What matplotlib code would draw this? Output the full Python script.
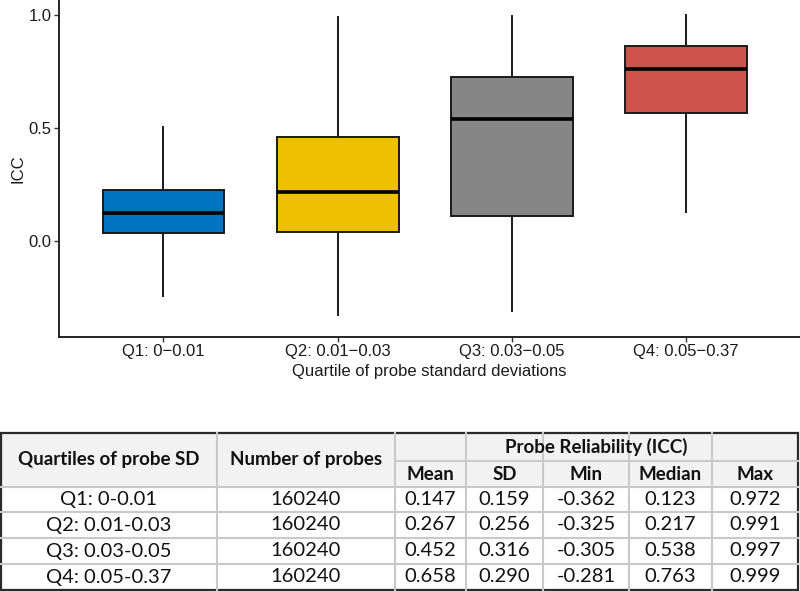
import matplotlib
matplotlib.use('Agg')
import matplotlib.pyplot as plt
from matplotlib.patches import Rectangle

plt.rcParams['font.family'] = ['Liberation Sans', 'DejaVu Sans']

# ---- box plot data (summary statistics) ----
groups = ['Q1: 0\u22120.01', 'Q2: 0.01\u22120.03', 'Q3: 0.03\u22120.05', 'Q4: 0.05\u22120.37']
whisker_low = [-0.242, -0.326, -0.307, 0.131]
box_q1 = [0.038, 0.041, 0.113, 0.568]
box_median = [0.123, 0.217, 0.539, 0.763]
box_q3 = [0.227, 0.462, 0.725, 0.863]
whisker_high = [0.506, 0.990, 0.996, 0.999]
box_colors = ['#0073C2', '#EFC000', '#868686', '#CD534C']

# ---- table data ----
table_quartiles = ['Q1: 0-0.01', 'Q2: 0.01-0.03', 'Q3: 0.03-0.05', 'Q4: 0.05-0.37']
table_n = [160240, 160240, 160240, 160240]
table_mean = [0.147, 0.267, 0.452, 0.658]
table_sd = [0.159, 0.256, 0.316, 0.290]
table_min = [-0.362, -0.325, -0.305, -0.281]
table_median = [0.123, 0.217, 0.538, 0.763]
table_max = [0.972, 0.991, 0.997, 0.999]
stat_headers = ['Mean', 'SD', 'Min', 'Median', 'Max']

W, H = 800, 591
fig = plt.figure(figsize=(W / 100, H / 100), dpi=100)

# ---- box plot ----
ax_left, ax_bottom_px = 59, 336.7
ax = fig.add_axes([ax_left / W, 1 - ax_bottom_px / H, (W - ax_left) / W, ax_bottom_px / H])
stats = []
for i in range(len(groups)):
    stats.append(dict(whislo=whisker_low[i], q1=box_q1[i], med=box_median[i],
                      q3=box_q3[i], whishi=whisker_high[i], fliers=[]))
positions = list(range(1, len(groups) + 1))
bp = ax.bxp(stats, positions=positions, widths=0.7, patch_artist=True,
            showcaps=False, showfliers=False,
            boxprops=dict(linewidth=1.4, edgecolor='#1a1a1a'),
            medianprops=dict(color='black', linewidth=2.6),
            whiskerprops=dict(color='#1a1a1a', linewidth=1.4))
for patch, c in zip(bp['boxes'], box_colors):
    patch.set_facecolor(c)

ax.set_xlim(0.4, 4.655)
ax.set_ylim(-0.4216, 1.0663)
ax.set_xticks(positions)
ax.set_xticklabels(groups)
ax.set_yticks([0.0, 0.5, 1.0])
ax.set_yticklabels(['0.0', '0.5', '1.0'])
for s in ['top', 'right']:
    ax.spines[s].set_visible(False)
for s in ['left', 'bottom']:
    ax.spines[s].set_linewidth(1.4)
    ax.spines[s].set_color('#222222')
ax.tick_params(axis='both', length=3.5, width=1.0, color='#333333',
               labelsize=12, labelcolor='#1a1a1a', pad=2)
ax.set_xlabel('Quartile of probe standard deviations', fontsize=12, color='#1a1a1a', labelpad=3)
ax.set_ylabel('ICC', fontsize=12, color='#1a1a1a', labelpad=2)
ax.set_facecolor('white')

# ---- table ----
tax = fig.add_axes([0, 0, 1, 1], zorder=5)
tax.set_xlim(0, W)
tax.set_ylim(H, 0)
tax.axis('off')
tax.patch.set_alpha(0)

col_edges = [0, 217, 395, 466, 543, 629, 712, 798]
row_edges = [433, 461, 487, 512, 538, 564, 590]
grid_c = '#c9c9c9'
tfont = ['Lato', 'DejaVu Sans']
fs_body = 14.5
fs_head = 13.5

tax.add_patch(Rectangle((col_edges[0], row_edges[0]), col_edges[-1] - col_edges[0],
                        row_edges[2] - row_edges[0], facecolor='#f2f2f2', edgecolor='none'))
# horizontal grid lines
for k, y in enumerate(row_edges[1:-1], start=1):
    x0 = col_edges[2] if k == 1 else col_edges[0]
    tax.plot([x0, col_edges[-1]], [y, y], color=grid_c, lw=1.5)
# vertical grid lines
for x in col_edges[1:-1]:
    tax.plot([x, x], [row_edges[0], row_edges[-1]], color=grid_c, lw=1.5)
# outer border
tax.add_patch(Rectangle((col_edges[0] + 1, row_edges[0]), col_edges[-1] - col_edges[0] - 1,
                        row_edges[-1] - row_edges[0], facecolor='none', edgecolor='#2a2a2a', lw=1.6))

def cx(i):
    return (col_edges[i] + col_edges[i + 1]) / 2

def cy(j):
    return (row_edges[j] + row_edges[j + 1]) / 2

hy = (row_edges[0] + row_edges[2]) / 2
tax.text(cx(0), hy, 'Quartiles of probe SD', ha='center', va='center', fontsize=fs_head,
         fontweight='bold', family=tfont, color='#111111')
tax.text(cx(1), hy, 'Number of probes', ha='center', va='center', fontsize=fs_head,
         fontweight='bold', family=tfont, color='#111111')
tax.text((col_edges[2] + col_edges[-1]) / 2, cy(0), 'Probe Reliability (ICC)', ha='center',
         va='center', fontsize=fs_head, fontweight='bold', family=tfont, color='#111111')
for i, h in enumerate(stat_headers):
    tax.text(cx(2 + i), cy(1), h, ha='center', va='center', fontsize=fs_head,
             fontweight='bold', family=tfont, color='#111111')

for r in range(len(table_quartiles)):
    vals = [table_quartiles[r], str(table_n[r]),
            f'{table_mean[r]:.3f}', f'{table_sd[r]:.3f}', f'{table_min[r]:.3f}',
            f'{table_median[r]:.3f}', f'{table_max[r]:.3f}']
    for i, v in enumerate(vals):
        tax.text(cx(i), cy(2 + r), v, ha='center', va='center', fontsize=fs_body,
                 family=tfont, color='#111111')

fig.savefig('out.png', dpi=100, facecolor='white')
